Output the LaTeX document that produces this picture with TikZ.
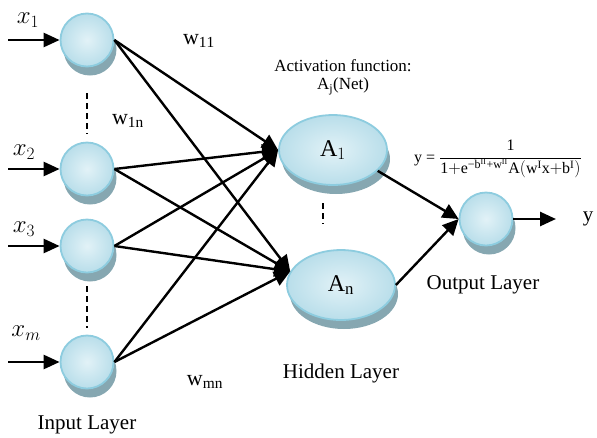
\documentclass[tikz,border=0pt]{standalone}
\usepackage{fontspec}
\setmainfont{Liberation Serif}
\usetikzlibrary{arrows.meta,shapes.geometric,shadows}
\definecolor{nborder}{HTML}{8DCCDF}
\definecolor{ninner}{HTML}{E2F2F7}
\definecolor{nouter}{HTML}{B9DEEA}
\definecolor{nshadow}{HTML}{86A7B1}
\newcommand{\expo}[1]{\hbox{\fontsize{12}{14}\selectfont #1}}
\begin{document}
\begin{tikzpicture}[x=1pt,y=-1pt,
  neuron/.style={circle,minimum size=53pt,inner sep=0pt,draw=nborder,line width=1.8pt,
    inner color=ninner,outer color=nouter,
    drop shadow={shadow xshift=3pt,shadow yshift=-9pt,fill=nshadow,opacity=1}},
  hneuron/.style={ellipse,minimum width=108pt,minimum height=70pt,inner sep=0pt,draw=nborder,line width=1.8pt,
    inner color=ninner,outer color=nouter,font=\fontsize{24}{26}\selectfont,
    drop shadow={shadow xshift=3pt,shadow yshift=-9pt,fill=nshadow,opacity=1}},
  conn/.style={line width=2.4pt,-{Triangle[length=16pt,width=15pt]}},
  inarrow/.style={line width=2.6pt,-{Triangle[length=16pt,width=14pt]}},
  lbl/.style={font=\fontsize{21}{23}\selectfont},
  wlbl/.style={font=\fontsize{22}{24}\selectfont},
  xlbl/.style={font=\fontsize{24}{26}\selectfont},
  dashline/.style={line width=1.2pt,dash pattern=on 6pt off 4pt}
]
\useasboundingbox (0,0) rectangle (597,437);

% input neurons
\node[neuron] (i1) at (87,40) {};
\node[neuron] (i2) at (87,169) {};
\node[neuron] (i3) at (87,246) {};
\node[neuron] (im) at (87,362) {};

% hidden
\node[hneuron] (A1) at (333,150) {A$_1$};
\node[hneuron] (An) at (341,285) {A$_\mathrm{n}$};

% output
\node[neuron] (o) at (486,219) {};

% input arrows
\coordinate (s1) at (8,40);
\coordinate (s2) at (8,169);
\coordinate (s3) at (8,246);
\coordinate (sm) at (8,362);
\draw[inarrow] (s1) -- (i1.west);
\draw[inarrow] (s2) -- (i2.west);
\draw[inarrow] (s3) -- (i3.west);
\draw[inarrow] (sm) -- (im.west);

% connections
\foreach \n in {i1,i2,i3,im}{
  \draw[conn] (\n.east) -- (A1.west);
  \draw[conn] (\n.east) -- (An.165);
}
\draw[conn] (A1.-25) -- (o.west);
\draw[conn] (An.east) -- (o.west);
\coordinate (yend) at (556,219);
\draw[inarrow] (o.east) -- (yend);

% dashed separators
\coordinate (d1a) at (87,93); \coordinate (d1b) at (87,134);
\coordinate (d2a) at (87,286); \coordinate (d2b) at (87,328);
\coordinate (d3a) at (323,203); \coordinate (d3b) at (323,224);
\draw[dashline] (d1a) -- (d1b);
\draw[dashline] (d2a) -- (d2b);
\draw[dashline] (d3a) -- (d3b);

% labels
\node[xlbl] (lx1) at (28,20) {$x_1$};
\node[xlbl] (lx2) at (24,152) {$x_2$};
\node[xlbl] (lx3) at (24,229) {$x_3$};
\node[xlbl] (lxm) at (26,333) {$x_m$};
\node[wlbl] (w11) at (199,41) {w$_{\mathrm{11}}$};
\node[wlbl] (w1n) at (128,121) {w$_{\mathrm{1n}}$};
\node[wlbl] (wmn) at (205,382) {w$_{\mathrm{mn}}$};
\node[font=\fontsize{17}{19}\selectfont,align=center] (act) at (343,77) {Activation function:\\[-1pt] A$_\mathrm{j}$(Net)};
\node[lbl] (hl) at (341,373) {Hidden Layer};
\node[lbl] (ol) at (483,285) {Output Layer};
\node[lbl] (il) at (87,425) {Input Layer};
\node[font=\fontsize{21}{23}\selectfont] (ylab) at (588,219) {y};
\node[font=\fontsize{16}{18}\selectfont,anchor=west,inner sep=0pt] (form) at (414,159)
  {y = $\displaystyle\frac{\mathrm{1}}{\mathrm{1{+}e^{\expo{−b\textsuperscript{II}+w\textsuperscript{II}}}A(w^{I}x{+}b^{I})}}$};
\end{tikzpicture}
\end{document}
